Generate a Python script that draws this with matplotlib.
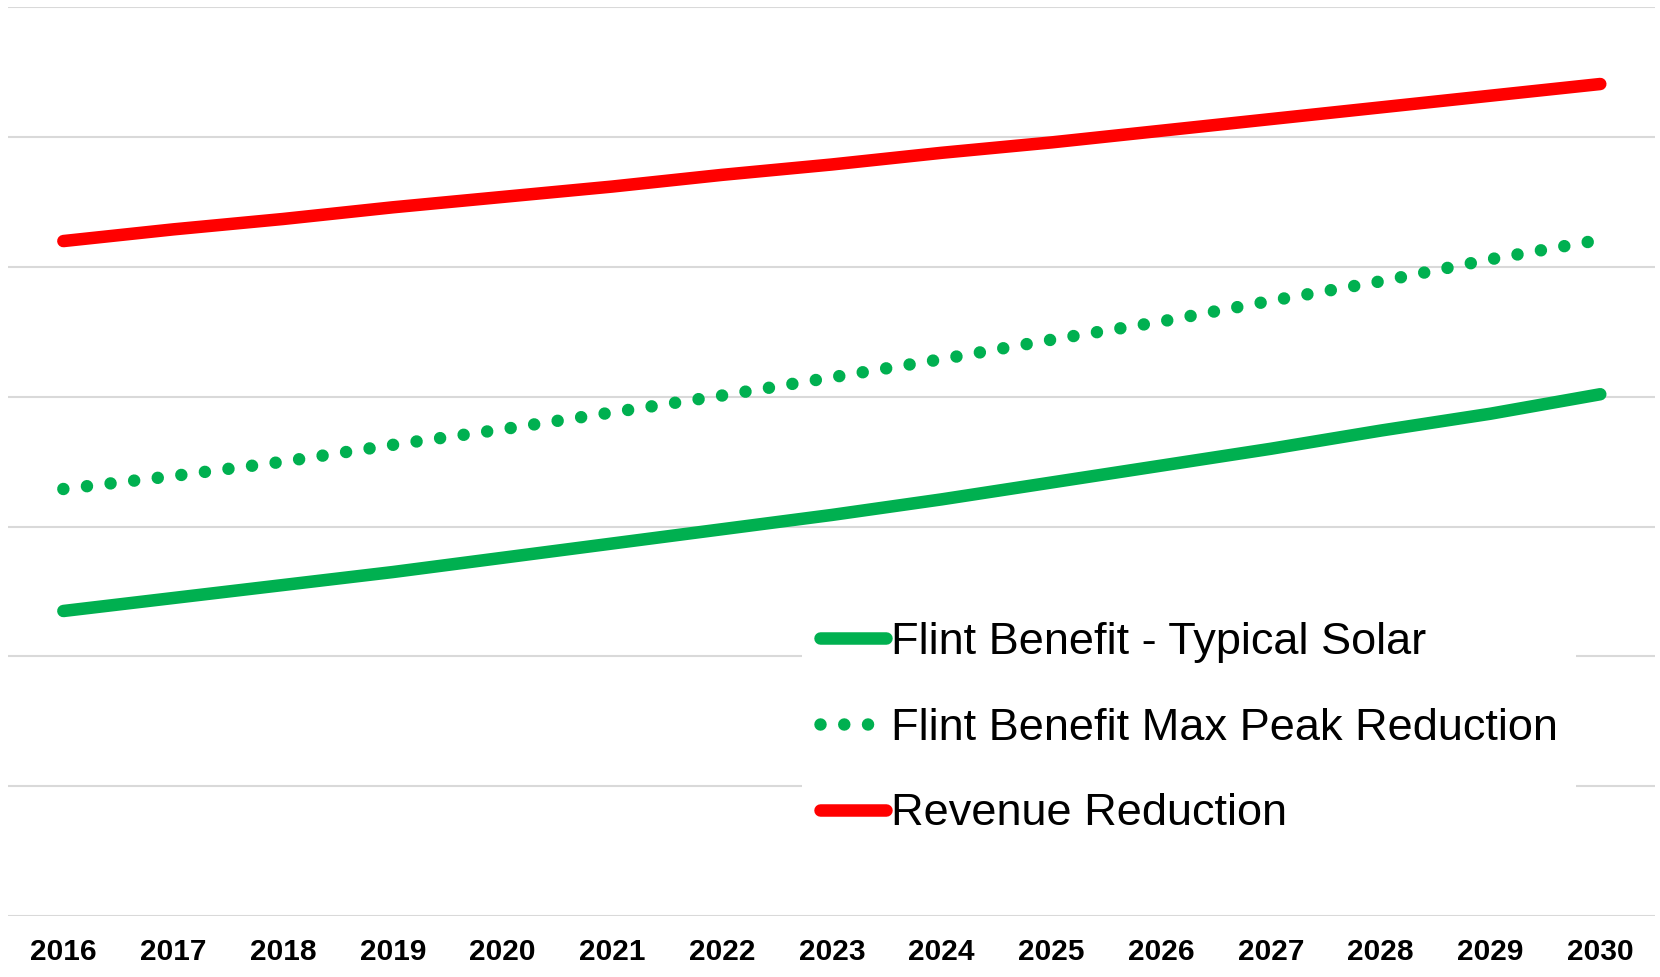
import numpy as np
import matplotlib
matplotlib.use("Agg")
import matplotlib.pyplot as plt

years = [str(y) for y in range(2016, 2031)]
typical_solar = [2.35, 2.45, 2.55, 2.65, 2.76, 2.87, 2.98, 3.09, 3.21, 3.34, 3.47, 3.60, 3.74, 3.87, 4.02]
max_peak = [3.29, 3.39, 3.50, 3.63, 3.75, 3.88, 4.01, 4.15, 4.29, 4.44, 4.58, 4.74, 4.89, 5.06, 5.21]
revenue_red = [5.20, 5.29, 5.37, 5.46, 5.54, 5.62, 5.71, 5.79, 5.88, 5.96, 6.05, 6.14, 6.23, 6.32, 6.41]

green = "#00b050"
red = "#ff0000"

plt.rcParams['font.family'] = ['Liberation Sans', 'DejaVu Sans']

fig = plt.figure(figsize=(16.6, 9.77), dpi=100)
ax = fig.add_axes([0.0051, 0.0624, 0.992, 0.930])

x = np.arange(len(years))
ax.plot(x, typical_solar, color=green, lw=9, solid_capstyle='round',
        label="Flint Benefit - Typical Solar", zorder=3)
ax.plot(x, max_peak, color=green, lw=9, linestyle=(0, (0.001, 1.9)),
        dash_capstyle='round', label="Flint Benefit Max Peak Reduction", zorder=3)
ax.plot(x, revenue_red, color=red, lw=9, solid_capstyle='round',
        label="Revenue Reduction", zorder=3)

ax.set_xlim(-0.5, len(years) - 0.5)
ax.set_ylim(0, 7)
ax.set_yticks(np.arange(0, 8))
ax.set_yticklabels([])
ax.grid(axis='y', color='#d9d9d9', lw=1.5, zorder=0)
ax.set_xticks(x)
ax.set_xticklabels(years, fontsize=21.5, fontweight='bold')
ax.tick_params(axis='x', length=0, pad=16)
ax.tick_params(axis='y', length=0)
for s in ax.spines.values():
    s.set_visible(False)

leg = ax.legend(loc='upper left', bbox_to_anchor=(802 / 1660, 1 - 604 / 977),
                bbox_transform=fig.transFigure, fontsize=32.5, frameon=True,
                framealpha=1, facecolor='white', edgecolor='none', fancybox=False,
                handlelength=1.45, handletextpad=0.13, labelspacing=0.99,
                borderpad=0.4, borderaxespad=0)
leg.set_zorder(5)

fig.savefig("out.png", dpi=100, facecolor='white')
